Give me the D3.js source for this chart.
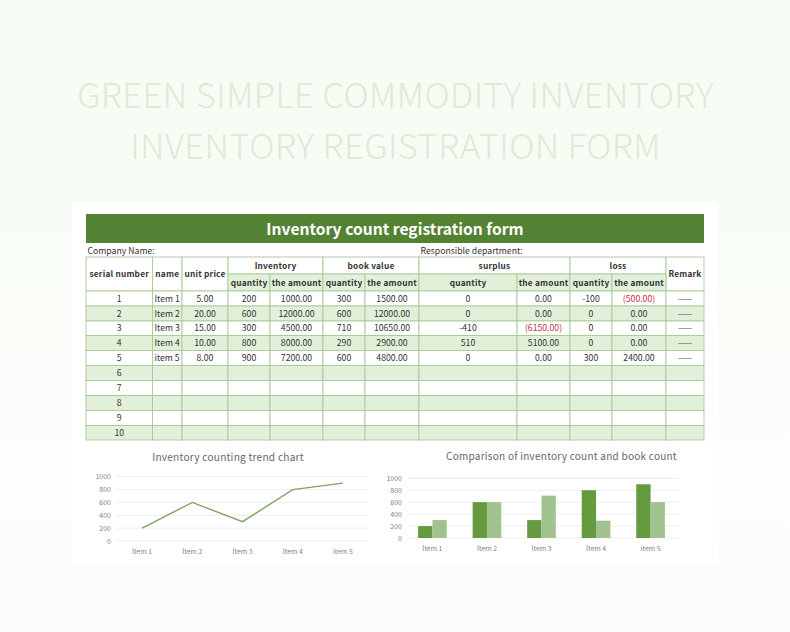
<!DOCTYPE html>
<html><head><meta charset="utf-8">
<script src="https://cdn.jsdelivr.net/npm/d3@7/dist/d3.min.js"></script>
<style>
html,body{margin:0;padding:0;background:#fff}
svg{display:block}
text{font-family:"Noto Sans CJK SC","Noto Sans",sans-serif}
</style></head><body>
<svg id="c" width="790" height="632"></svg>
<script>
const pageTitleLines = ["GREEN SIMPLE COMMODITY INVENTORY","INVENTORY REGISTRATION FORM"];
const formTitle = "Inventory count registration form";
const companyLabel = "Company Name:";
const deptLabel = "Responsible department:";
const items = ["Item 1","Item 2","Item 3","Item 4","item 5"];
const serials = [1,2,3,4,5,6,7,8,9,10];
const unitPrice = ["5.00","20.00","15.00","10.00","8.00"];
const invQty = [200,600,300,800,900];
const invAmt = ["1000.00","12000.00","4500.00","8000.00","7200.00"];
const bookQty = [300,600,710,290,600];
const bookAmt = ["1500.00","12000.00","10650.00","2900.00","4800.00"];
const surplusQty = ["0","0","-410","510","0"];
const surplusAmt = ["0.00","0.00","(6150.00)","5100.00","0.00"];
const lossQty = ["-100","0","0","0","300"];
const lossAmt = ["(500.00)","0.00","0.00","0.00","2400.00"];
const remarks = ["——","——","——","——","——"];
const lineTitle = "Inventory counting trend chart";
const barTitle = "Comparison of inventory count and book count";
const yTicks = [0,200,400,600,800,1000];

const svg = d3.select("#c");
const defs = svg.append("defs");
const g = defs.append("linearGradient").attr("id","bg").attr("x1",0).attr("x2",0).attr("y1",0).attr("y2",1);
g.append("stop").attr("offset","0").attr("stop-color","#f5fbf2");
g.append("stop").attr("offset","0.35").attr("stop-color","#f8fcf6");
g.append("stop").attr("offset","0.75").attr("stop-color","#fcfefb");
g.append("stop").attr("offset","1").attr("stop-color","#fbfdfa");
svg.append("rect").attr("width",790).attr("height",632).attr("fill","url(#bg)");

// page heading
svg.selectAll("text.pt").data(pageTitleLines).join("text").attr("class","pt")
  .attr("x",395.5).attr("y",(d,i)=>[108,159][i]).attr("text-anchor","middle")
  .attr("font-size",34.6).attr("font-weight",300).attr("fill","#ddebd5").attr("letter-spacing",0.45).text(d=>d);

// card
svg.append("rect").attr("x",72).attr("y",202).attr("width",646).attr("height",363).attr("fill","#fff");

// form
const colEdges = [86,152.5,182,228,270,323,365,419,517,570,612,666,704];
const rowEdges = [257,274,291,306,321,335.5,350.5,365.5,380.5,395.5,410.5,425.5,440];
const border = "#a9c99a", band = "#e2f0da", dark = "#333";
const t = svg.append("g");
t.append("rect").attr("x",86).attr("y",214).attr("width",618).attr("height",29).attr("fill","#548235");
t.append("text").attr("x",395).attr("y",234.5).attr("text-anchor","middle").attr("font-size",15.6).attr("font-weight",700).attr("letter-spacing",0.02).attr("fill","#fff").text(formTitle);
t.append("text").attr("x",87.5).attr("y",253.5).attr("font-size",8.7).attr("fill",dark).text(companyLabel);
t.append("text").attr("x",420.5).attr("y",253.5).attr("font-size",8.7).attr("fill",dark).text(deptLabel);

// cell helper: column span c0..c1, row span r0..r1
function cell(c0,c1,r0,r1,txt,opt={}){
  const x0=colEdges[c0],x1=colEdges[c1],y0=rowEdges[r0],y1=rowEdges[r1];
  t.append("rect").attr("x",x0).attr("y",y0).attr("width",x1-x0).attr("height",y1-y0)
    .attr("fill",opt.fill||"#fff").attr("stroke",border).attr("stroke-width",0.9);
  if(txt!==undefined&&txt!==""){
    t.append("text").attr("x",opt.left?x0+2:(x0+x1)/2).attr("y",(y0+y1)/2+3.2)
      .attr("text-anchor",opt.left?"start":"middle").attr("font-size",opt.size||8.7)
      .attr("font-weight",opt.bold?700:400).attr("letter-spacing",opt.bold?0.2:0)
      .attr("fill",opt.color||dark).text(txt);
  }
}
const hb={bold:true,size:8.3}, hs={bold:true,size:8.3,fill:band};
cell(0,1,0,2,"serial number",hb);
cell(1,2,0,2,"name",hb);
cell(2,3,0,2,"unit price",hb);
cell(3,5,0,1,"Inventory",hb);
cell(5,7,0,1,"book value",hb);
cell(7,9,0,1,"surplus",hb);
cell(9,11,0,1,"loss",hb);
cell(11,12,0,2,"Remark",hb);
["quantity","the amount","quantity","the amount","quantity","the amount","quantity","the amount"]
  .forEach((s,i)=>cell(3+i,4+i,1,2,s,hs));
const red="#c8324b";
const isNeg=s=>typeof s==="string"&&s[0]==="(";
serials.forEach((n,i)=>{
  const r=i+2, fill=i%2?band:"#fff";
  const v=[unitPrice,invQty,invAmt,bookQty,bookAmt,surplusQty,surplusAmt,lossQty,lossAmt,remarks].map(a=>a[i]);
  cell(0,1,r,r+1,n,{fill});
  cell(1,2,r,r+1,items[i],{fill,left:true});
  v.forEach((s,j)=>{
    const o={fill};
    if(isNeg(s)) o.color=red;
    if(j===9) o.color="#555";
    cell(2+j,3+j,r,r+1,s,o);
  });
});

// shared axis drawing
function yGrid(gr,y,x0,x1){
  gr.append("g").selectAll("line").data(yTicks).join("line")
    .attr("x1",x0).attr("x2",x1).attr("y1",d=>y(d)).attr("y2",d=>y(d))
    .attr("stroke","#ebebeb").attr("stroke-width",0.9);
  gr.append("g").selectAll("text").data(yTicks).join("text")
    .attr("x",x0-6).attr("y",d=>y(d)+2.6).attr("text-anchor","end")
    .attr("font-size",7).attr("fill","#7f7f7f").text(d=>d);
}
function xLabels(gr,x,yp){
  gr.append("g").selectAll("text").data(items).join("text")
    .attr("x",d=>x(d)+x.bandwidth()/2).attr("y",yp).attr("text-anchor","middle")
    .attr("font-size",6.9).attr("fill","#7f7f7f").text(d=>d);
}

// line chart
const lc=svg.append("g");
lc.append("text").attr("x",228).attr("y",461).attr("text-anchor","middle").attr("font-size",10.1).attr("letter-spacing",0.25).attr("fill","#666").text(lineTitle);
const ly=d3.scaleLinear().domain([0,1000]).range([541,476.7]);
const lx=d3.scaleBand().domain(items).range([117,368]);
yGrid(lc,ly,117,368);
lc.append("path").datum(invQty)
  .attr("d",d3.line().x((d,i)=>lx(items[i])+lx.bandwidth()/2).y(d=>ly(d)))
  .attr("fill","none").attr("stroke","#7fa463").attr("stroke-width",1.4);
xLabels(lc,lx,553.5);

// bar chart
const bc=svg.append("g");
bc.append("text").attr("x",561.5).attr("y",460).attr("text-anchor","middle").attr("font-size",10).attr("letter-spacing",0.25).attr("fill","#666").text(barTitle);
const by=d3.scaleLinear().domain([0,1000]).range([538,478.3]);
const bx=d3.scaleBand().domain(items).range([405,678]).paddingInner(0.475).paddingOuter(0.24);
const bs=d3.scaleBand().domain(["inv","book"]).range([0,bx.bandwidth()]);
yGrid(bc,by,408,679);
const series=[["inv",invQty,"#659a3f"],["book",bookQty,"#a1c28f"]];
series.forEach(([k,vals,col])=>{
  bc.append("g").selectAll("rect").data(vals).join("rect")
    .attr("x",(d,i)=>bx(items[i])+bs(k)).attr("width",bs.bandwidth())
    .attr("y",d=>by(d)).attr("height",d=>by(0)-by(d)).attr("fill",col);
});
xLabels(bc,bx,550.5);
</script>
</body></html>
